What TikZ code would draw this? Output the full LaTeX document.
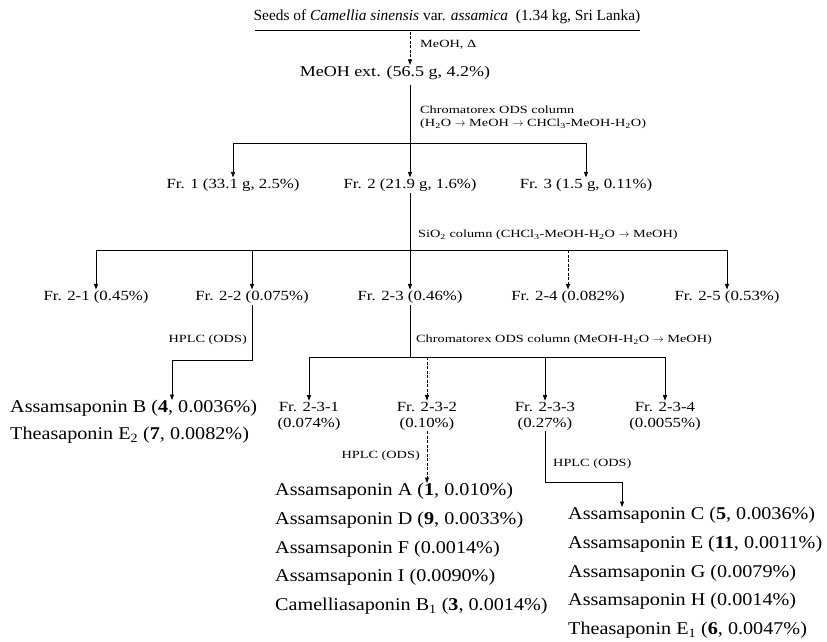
\documentclass[tikz,border=0pt]{standalone}
\usepackage{fontspec}
\setmainfont{Liberation Serif}
\newfontfamily\wideA[FakeStretch=1.2]{Liberation Serif}
\newfontfamily\wideB[FakeStretch=1.12]{Liberation Serif}
\newfontfamily\wideC[FakeStretch=1.3]{Liberation Serif}
\usetikzlibrary{arrows.meta}
\begin{document}
\begin{tikzpicture}[x=1pt,y=-1pt,
  lbl/.style={font=\wideA\fontsize{14}{16}\selectfont, inner sep=1pt},
  lbl2/.style={font=\wideA\fontsize{14}{16}\selectfont, inner sep=1pt, align=center},
  cmpd/.style={font=\wideB\fontsize{18}{28.7}\selectfont, anchor=north west, inner sep=0pt, align=left},
  cond/.style={font=\wideC\fontsize{11}{15}\selectfont, inner sep=0pt, align=left},
  arr/.style={-{Triangle[length=5.5pt,width=4pt]}, line width=0.8pt},
  ln/.style={line width=0.8pt},
  brk/.style={dash pattern=on 3pt off 1.5pt}]
\useasboundingbox (0,0) rectangle (827,642);
% title
\node[font=\fontsize{15.4}{17}\selectfont, inner sep=0pt] (title) at (447,17)
  {Seeds of \textit{Camellia sinensis} var. \textit{assamica}\ \ (1.34 kg, Sri Lanka)};
\draw[ln] (255,30) -- (640,30);
\coordinate (t0) at (410,32);
\node[lbl, font=\wideA\fontsize{15}{17}\selectfont] (meoh) at (395,73) {MeOH ext. (56.5 g, 4.2\%)};
\draw[arr,brk] (t0) -- (t0 |- meoh.north);
\node[cond, anchor=west] (c1) at (420,45) {MeOH, Δ};
% ODS 1
\coordinate (m0) at (410,85);
\coordinate (m1) at (410,143);
\node[cond, anchor=north west] (c2) at (420,106) {Chromatorex ODS column\\[-2pt](H\textsubscript{2}O $\rightarrow$ MeOH $\rightarrow$ CHCl\textsubscript{3}-MeOH-H\textsubscript{2}O)};
\node[lbl] (fr1) at (233,185) {Fr. 1 (33.1 g, 2.5\%)};
\node[lbl] (fr2) at (410,185) {Fr. 2 (21.9 g, 1.6\%)};
\node[lbl] (fr3) at (586,185) {Fr. 3 (1.5 g, 0.11\%)};
\draw[ln] (m0) -- (m1);
\draw[ln] (fr1 |- m1) -- (fr3 |- m1);
\draw[arr] (fr1 |- m1) -- (fr1.north);
\draw[arr] (m1) -- (fr2.north);
\draw[arr] (fr3 |- m1) -- (fr3.north);
% SiO2
\node[cond, anchor=west] (c3) at (418,235) {SiO\textsubscript{2} column (CHCl\textsubscript{3}-MeOH-H\textsubscript{2}O $\rightarrow$ MeOH)};
\node[lbl] (f21) at (96,297) {Fr. 2-1 (0.45\%)};
\node[lbl] (f22) at (252,297) {Fr. 2-2 (0.075\%)};
\node[lbl] (f23) at (410,297) {Fr. 2-3 (0.46\%)};
\node[lbl] (f24) at (568,297) {Fr. 2-4 (0.082\%)};
\node[lbl] (f25) at (727,297) {Fr. 2-5 (0.53\%)};
\coordinate (s1) at (410,250);
\draw[ln] (fr2.south) -- (s1);
\draw[ln] (f21 |- s1) -- (f25 |- s1);
\draw[arr] (f21 |- s1) -- (f21.north);
\draw[arr] (f22 |- s1) -- (f22.north);
\draw[arr] (s1) -- (f23.north);
\draw[arr,brk] (f24 |- s1) -- (f24.north);
\draw[arr] (f25 |- s1) -- (f25.north);
% Fr 2-2 HPLC
\node[cmpd, font=\wideB\fontsize{18}{27}\selectfont] (listB) at (10,400) {Assamsaponin B (\textbf{4}, 0.0036\%)\\Theasaponin E\textsubscript{2} (\textbf{7}, 0.0082\%)};
\coordinate (k1) at (252,360);
\coordinate (k2) at (172,360);
\draw[ln] (f22.south) -- (k1) -- (k2);
\draw[arr] (k2) -- (k2 |- listB.north);
\node[cond, anchor=east] (c4) at (247,340) {HPLC (ODS)};
% Fr 2-3 ODS
\node[cond, anchor=west] (c5) at (416,340) {Chromatorex ODS column (MeOH-H\textsubscript{2}O $\rightarrow$ MeOH)};
\coordinate (u1) at (410,357);
\node[lbl2] (f231) at (309,416) {Fr. 2-3-1\\(0.074\%)};
\node[lbl2] (f232) at (427,416) {Fr. 2-3-2\\(0.10\%)};
\node[lbl2] (f233) at (545,416) {Fr. 2-3-3\\(0.27\%)};
\node[lbl2] (f234) at (665,416) {Fr. 2-3-4\\(0.0055\%)};
\draw[ln] (f23.south) -- (u1);
\draw[ln] (f231 |- u1) -- (f234 |- u1);
\draw[arr] (f231 |- u1) -- (f231.north);
\draw[arr,brk] (f232 |- u1) -- (f232.north);
\draw[arr] (f233 |- u1) -- (f233.north);
\draw[arr] (f234 |- u1) -- (f234.north);
% Fr 2-3-2 HPLC
\node[cmpd] (listA) at (275,483) {Assamsaponin A (\textbf{1}, 0.010\%)\\Assamsaponin D (\textbf{9}, 0.0033\%)\\Assamsaponin F (0.0014\%)\\Assamsaponin I (0.0090\%)\\Camelliasaponin B\textsubscript{1} (\textbf{3}, 0.0014\%)};
\draw[arr,brk] (f232.south) -- (f232.south |- listA.north);
\node[cond, anchor=east] (c6) at (420,456) {HPLC (ODS)};
% Fr 2-3-3 HPLC
\node[cmpd] (listC) at (568,507) {Assamsaponin C (\textbf{5}, 0.0036\%)\\Assamsaponin E (\textbf{11}, 0.0011\%)\\Assamsaponin G (0.0079\%)\\Assamsaponin H (0.0014\%)\\Theasaponin E\textsubscript{1} (\textbf{6}, 0.0047\%)};
\coordinate (v1) at (545,482);
\coordinate (v2) at (622,482);
\draw[ln] (f233.south) -- (v1) -- (v2);
\draw[arr] (v2) -- (v2 |- listC.north);
\node[cond, anchor=west] (c7) at (553,464) {HPLC (ODS)};
\end{tikzpicture}
\end{document}
